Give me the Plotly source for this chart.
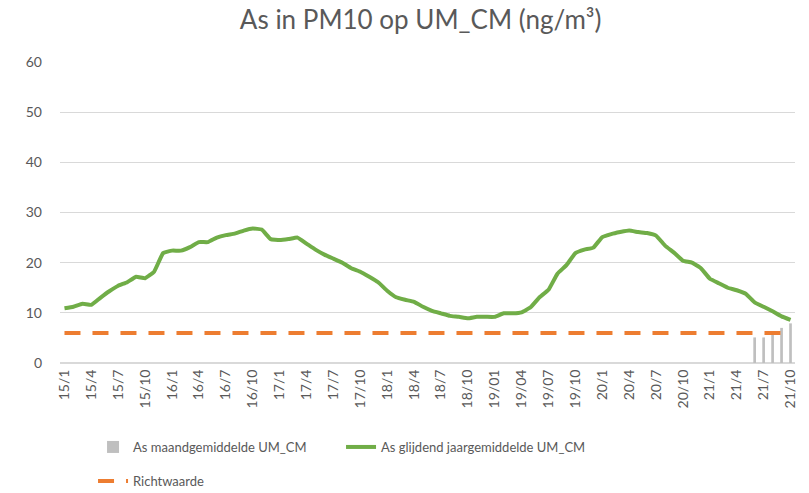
import plotly.graph_objects as go

months = [f"{y}/{m}" for y in range(15, 22) for m in range(1, 13)][:82]
# tick labels as shown in the reference (every 3 months)
tick_labels = ["15/1", "15/4", "15/7", "15/10", "16/1", "16/4", "16/7", "16/10",
               "17/1", "17/4", "17/7", "17/10", "18/1", "18/4", "18/7", "18/10",
               "19/01", "19/04", "19/07", "19/10", "20/1", "20/4", "20/7", "20/10",
               "21/1", "21/4", "21/7", "21/10"]
tick_positions = months[::3]

glijdend = [10.9, 11.2, 11.8, 11.6, 13.0, 14.3, 15.4, 16.1, 17.2, 16.9,
            18.2, 21.9, 22.4, 22.4, 23.1, 24.1, 24.1, 25.0, 25.5, 25.8,
            26.4, 26.8, 26.6, 24.7, 24.5, 24.7, 25.0, 23.8, 22.6, 21.6,
            20.8, 20.0, 18.9, 18.2, 17.2, 16.1, 14.4, 13.1, 12.6, 12.2,
            11.2, 10.4, 9.9, 9.4, 9.2, 8.9, 9.2, 9.2, 9.2, 9.9,
            9.9, 10.1, 11.1, 13.1, 14.6, 17.8, 19.5, 21.9, 22.6, 23.0,
            25.1, 25.7, 26.1, 26.4, 26.1, 25.9, 25.4, 23.4, 22.0, 20.4,
            20.0, 18.9, 16.8, 15.9, 15.0, 14.5, 13.8, 12.1, 11.2, 10.3,
            9.3, 8.6]
maand = [None] * 77 + [5.1, 5.1, 5.8, 7.0, 7.9]
richtwaarde = [6] * 82

grey = "#595959"
fig = go.Figure()
fig.add_trace(go.Bar(x=months, y=maand, name="As maandgemiddelde UM_CM",
                     marker=dict(color="#BFBFBF", line=dict(width=0)),
                     legend="legend"))
fig.add_trace(go.Scatter(x=months, y=glijdend, mode="lines",
                         name="As glijdend jaargemiddelde UM_CM",
                         line=dict(color="#70AD47", width=4, shape="spline",
                                   smoothing=0.3),
                         legend="legend"))
fig.add_trace(go.Scatter(x=months, y=richtwaarde, mode="lines",
                         name="Richtwaarde",
                         line=dict(color="#ED7D31", width=4, dash="16px,12px"),
                         legend="legend2"))

legend_common = dict(orientation="h", xref="container", yref="container",
                     xanchor="left", yanchor="middle",
                     font=dict(size=13, color=grey), bgcolor="rgba(0,0,0,0)")

fig.update_layout(
    width=809, height=493,
    margin=dict(l=60, r=14, t=62, b=130, autoexpand=False),
    paper_bgcolor="white", plot_bgcolor="white",
    font=dict(family="Lato, Carlito, Calibri, sans-serif", color=grey, size=14),
    title=dict(text="As in PM10 op UM_CM (ng/m³)", x=0.52, xanchor="center",
               y=0.959, yanchor="middle", font=dict(size=26, color=grey)),
    bargap=0.7,
    showlegend=True,
    legend=dict(x=0.115, y=1 - 447 / 493, entrywidth=203,
                entrywidthmode="pixels", **legend_common),
    legend2=dict(x=0.115, y=1 - 481 / 493, **legend_common),
)
fig.update_xaxes(type="category", tickmode="array", tickvals=tick_positions,
                 ticktext=tick_labels, tickangle=-90, showgrid=False,
                 tickfont=dict(size=14, color=grey), ticks="",
                 showline=True, linecolor="#D9D9D9", linewidth=1,
                 range=[-0.5, 81.5], automargin=False)
fig.update_yaxes(range=[0, 60], dtick=10, showgrid=True, gridcolor="#D9D9D9",
                 gridwidth=1, zeroline=True, zerolinecolor="#D9D9D9",
                 tickfont=dict(size=14, color=grey), ticks="",
                 ticklabelstandoff=17, automargin=False)

fig.write_html("out.html", config={"displayModeBar": False},
               post_script="document.body.style.margin='0';document.body.style.overflow='hidden';")
